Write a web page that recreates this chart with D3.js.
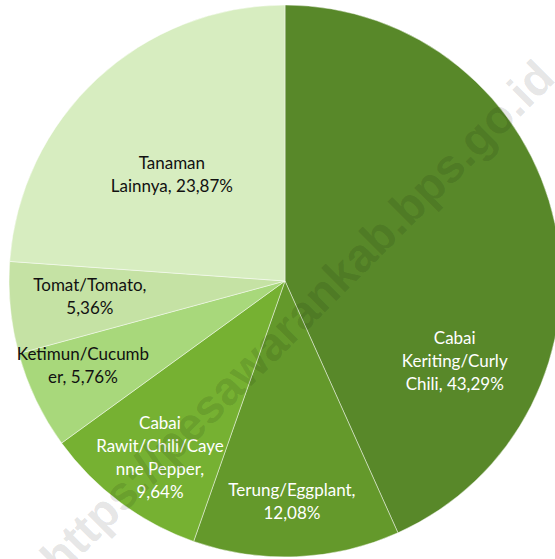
<!DOCTYPE html>
<html>
<head>
<meta charset="utf-8">
<script src="https://cdn.jsdelivr.net/npm/d3@7"></script>
<style>
  html, body { margin: 0; padding: 0; background: #fff; }
  .lbl { font-family: Lato, "Open Sans", sans-serif; font-size: 17px; }
</style>
</head>
<body>
<div class="chart"></div>
<script>
var svgWidth = 555;
var svgHeight = 559;

// Data
var categories = ["Cabai Keriting/Curly Chili", "Terung/Eggplant", "Cabai Rawit/Chili/Cayenne Pepper",
                  "Ketimun/Cucumber", "Tomat/Tomato", "Tanaman Lainnya"];
var shares = [43.29, 12.08, 9.64, 5.76, 5.36, 23.87];
var labelLines = [
    ["Cabai", "Keriting/Curly", "Chili, 43,29%"],
    ["Terung/Eggplant,", "12,08%"],
    ["Cabai", "Rawit/Chili/Caye", "nne Pepper,", "9,64%"],
    ["Ketimun/Cucumb", "er, 5,76%"],
    ["Tomat/Tomato,", "5,36%"],
    ["Tanaman", "Lainnya, 23,87%"]
];
var colors = ["#588829", "#64992b", "#76b132", "#a8d87b", "#c5e2a4", "#d7edc0"];
var textColors = ["#fff", "#fff", "#fff", "#111", "#111", "#111"];

// label block centres, as fraction of radius from the pie centre
var labelOffset = [[0.615, 0.29], [0.025, 0.80], [-0.453, 0.638], [-0.732, 0.308], [-0.707, 0.058], [-0.41, -0.384]];

var cx = 285, cy = 281, radius = 276;

var svg = d3.select(".chart")
    .append("svg")
    .attr("width", svgWidth)
    .attr("height", svgHeight);

var pieGroup = svg.append("g")
    .attr("transform", `translate(${cx}, ${cy})`);

var pie = d3.pie().sort(null).value(d => d);
var arc = d3.arc().innerRadius(0).outerRadius(radius);

pieGroup.selectAll("path")
    .data(pie(shares))
    .enter()
    .append("path")
    .attr("d", arc)
    .attr("fill", (d, i) => colors[i])
    .attr("stroke", "#fff")
    .attr("stroke-opacity", 0.45)
    .attr("stroke-width", 1);

// labels
var lineH = 23;
pieGroup.selectAll("text.lbl")
    .data(labelLines)
    .enter()
    .append("text")
    .attr("class", "lbl")
    .attr("text-anchor", "middle")
    .attr("fill", (d, i) => textColors[i])
    .each(function(lines, i) {
        var x = labelOffset[i][0] * radius;
        var y = labelOffset[i][1] * radius - (lines.length - 1) * lineH / 2;
        d3.select(this).selectAll("tspan")
            .data(lines)
            .enter()
            .append("tspan")
            .attr("x", x)
            .attr("y", (l, j) => y + j * lineH)
            .attr("dy", "0.35em")
            .text(l => l);
    });

// watermark
svg.append("text")
    .attr("transform", "translate(297, 317) rotate(-45)")
    .attr("text-anchor", "middle")
    .attr("dy", "0.35em")
    .style("font-family", "'Liberation Sans', Arial, sans-serif")
    .style("font-weight", "bold")
    .style("font-size", "47px")
    .attr("fill", "#000")
    .attr("fill-opacity", 0.11)
    .text("https://pesawarankab.bps.go.id");
</script>
</body>
</html>
